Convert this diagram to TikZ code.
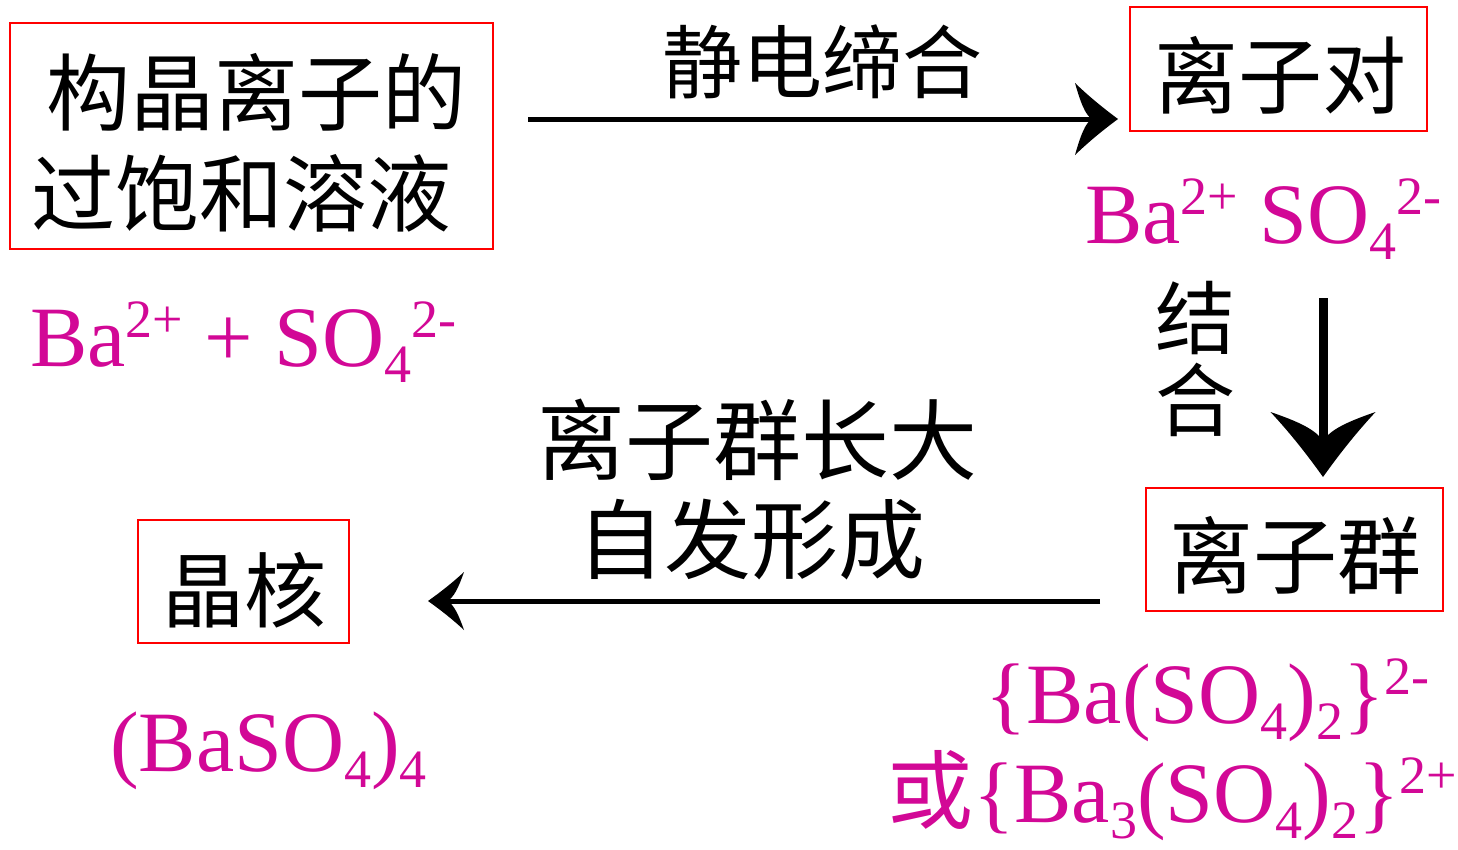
\documentclass[tikz,border=0pt]{standalone}
\usepackage{fontspec}
\setmainfont{Liberation Serif}
\newfontfamily\cjk{Noto Sans CJK SC}
\usetikzlibrary{arrows.meta}
\definecolor{chemc}{RGB}{210,8,150}
\newcommand\chup[1]{\raisebox{0.33em}{\fontsize{54}{54}\selectfont #1}}
\newcommand\chdn[1]{\raisebox{-0.19em}{\fontsize{54}{54}\selectfont #1}}
\pgfdeclarearrow{
  name=CStealth,
  parameters={\the\pgfarrowlength,\the\pgfarrowwidth,\the\pgfarrowinset},
  setup code={
    \pgfarrowssettipend{\pgfarrowlength}
    \pgfarrowssetbackend{0pt}
    \dimen0=\pgfarrowlength
    \advance\dimen0 by \pgfarrowinset
    \divide\dimen0 by 2
    \pgfarrowssetlineend{\dimen0}
    \pgfarrowssavethe\pgfarrowlength
    \pgfarrowssavethe\pgfarrowwidth
    \pgfarrowssavethe\pgfarrowinset
  },
  drawing code={
    \pgfpathmoveto{\pgfqpoint{\pgfarrowlength}{0pt}}
    \pgfpathcurveto{\pgfqpoint{0.66\pgfarrowlength}{0.15\pgfarrowwidth}}
                   {\pgfqpoint{0.33\pgfarrowlength}{0.31\pgfarrowwidth}}
                   {\pgfqpoint{0pt}{0.5\pgfarrowwidth}}
    \pgfpathcurveto{\pgfqpoint{0.3\pgfarrowinset}{0.25\pgfarrowwidth}}
                   {\pgfqpoint{0.6\pgfarrowinset}{0.05\pgfarrowwidth}}
                   {\pgfqpoint{\pgfarrowinset}{0pt}}
    \pgfpathcurveto{\pgfqpoint{0.6\pgfarrowinset}{-0.05\pgfarrowwidth}}
                   {\pgfqpoint{0.3\pgfarrowinset}{-0.25\pgfarrowwidth}}
                   {\pgfqpoint{0pt}{-0.5\pgfarrowwidth}}
    \pgfpathcurveto{\pgfqpoint{0.33\pgfarrowlength}{-0.31\pgfarrowwidth}}
                   {\pgfqpoint{0.66\pgfarrowlength}{-0.15\pgfarrowwidth}}
                   {\pgfqpoint{\pgfarrowlength}{0pt}}
    \pgfpathclose
    \pgfusepathqfill
  },
  defaults={length=10pt, width=10pt, inset=4pt}
}
\begin{document}
\begin{tikzpicture}[x=1pt,y=-1pt,
  redbox/.style={draw=red, line width=1.5pt, inner sep=0pt},
  cjkt/.style={inner sep=0pt, anchor=west, font=\cjk\fontsize{#1}{#1}\selectfont},
  chem/.style={inner sep=0pt, anchor=base west, text=chemc, font=\fontsize{86}{86}\selectfont},
  arrA/.style={line width=5pt, -{CStealth[length=43pt,width=72pt,inset=17pt]}},
  arrB/.style={line width=9pt, -{CStealth[length=65pt,width=105pt,inset=30pt]}},
  arrC/.style={line width=5pt, -{CStealth[length=36pt,width=58pt,inset=17pt]}}]
\useasboundingbox (0,0) rectangle (1458,849);
% boxes
\node[redbox, minimum width=483pt, minimum height=226pt] (b1) at (251.5,136) {};
\node[redbox, minimum width=297pt, minimum height=124pt] (b2) at (1278.5,69) {};
\node[redbox, minimum width=297pt, minimum height=123pt] (b3) at (1294.5,549.5) {};
\node[redbox, minimum width=211pt, minimum height=123pt] (b4) at (243.5,581.5) {};
% chinese texts
\node[cjkt=84] (t1a) at (46,92) {构晶离子的};
\node[cjkt=84] (t1b) at (31,193) {过饱和溶液};
\node[cjkt=80] (t2) at (662,62) {静电缔合};
\node[cjkt=84] (t3) at (1154,75) {离子对};
\node[cjkt=80] (t4a) at (1155,318) {结};
\node[cjkt=80] (t4b) at (1155,400) {合};
\node[cjkt=88] (t5a) at (537,440) {离子群长大};
\node[cjkt=87] (t5b) at (577,540) {自发形成};
\node[cjkt=84] (t6) at (1169,555) {离子群};
\node[cjkt=82] (t7) at (162,590) {晶核};
% chemistry labels
\node[chem] (c1) at (1085,243) {Ba\chup{2+} SO\chdn{4}\chup{2-}};
\node[chem] (c2) at (30,366) {Ba\chup{2+} + SO\chdn{4}\chup{2-}};
\node[chem] (c3) at (110,771) {(BaSO\chdn{4})\chdn{4}};
\node[chem] (c4) at (985,723) {\{Ba(SO\chdn{4})\chdn{2}\}\chup{2-}};
\node[chem] (c5) at (887,822) {{\cjk 或}\{Ba\chdn{3}(SO\chdn{4})\chdn{2}\}\chup{2+}};
% arrows
\coordinate (a1s) at (528,119);
\coordinate (a1e) at (1118,119);
\draw[arrA] (a1s) -- (a1e);
\coordinate (a2s) at (1323,298);
\coordinate (a2e) at (1323,477);
\draw[arrB] (a2s) -- (a2e);
\coordinate (a3s) at (1100,601);
\coordinate (a3e) at (428,601);
\draw[arrC] (a3s) -- (a3e);
\end{tikzpicture}
\end{document}
